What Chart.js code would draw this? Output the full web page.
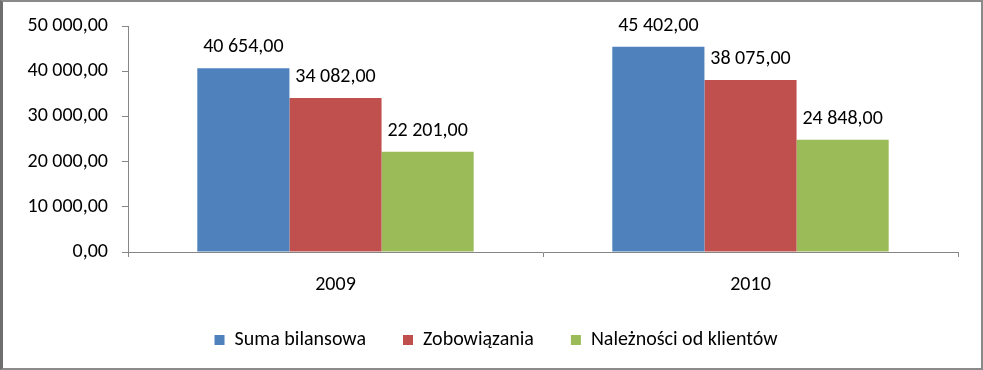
<!DOCTYPE html>
<html>
<head>
<meta charset="utf-8">
<script src="https://cdn.jsdelivr.net/npm/chart.js@4.4.0/dist/chart.umd.min.js"></script>
<style>
  html, body { margin: 0; padding: 0; background: #fff; }
  #wrap { position: relative; width: 983px; height: 370px; }
  #frame { position: absolute; left: 0; top: 0; width: 983px; height: 370px; box-sizing: border-box;
           border: 2px solid #8a8a8a; border-left: 3px solid #6e6e6e; pointer-events: none; }
</style>
</head>
<body>
<div id="wrap">
  <canvas id="balanceChart" width="983" height="370"></canvas>
  <div id="frame"></div>
</div>
<script>
// data
const years = ['2009', '2010'];
const sumaBilansowa = [40654, 45402];
const zobowiazania = [34082, 38075];
const naleznosci = [22201, 24848];
const yTicks = [0, 10000, 20000, 30000, 40000, 50000];

const fontFamily = 'Carlito, Lato, sans-serif';
const fontSize = 20;
const axisGray = '#868686';

// "40 654,00" style
function plNumber(v) {
  const parts = Math.abs(v).toFixed(2).split('.');
  const intPart = parts[0].replace(/\B(?=(\d{3})+(?!\d))/g, ' ');
  return (v < 0 ? '-' : '') + intPart + ',' + parts[1];
}

// values above the bars
const barLabels = {
  id: 'barLabels',
  afterDatasetsDraw(chart) {
    const c = chart.ctx;
    c.save();
    c.font = fontSize + 'px ' + fontFamily;
    c.fillStyle = '#000';
    c.textAlign = 'center';
    c.textBaseline = 'bottom';
    chart.data.datasets.forEach((ds, i) => {
      chart.getDatasetMeta(i).data.forEach((bar, j) => {
        c.fillText(plNumber(ds.data[j]), bar.x, bar.y - 11);
      });
    });
    c.restore();
  }
};

// legend sits a bit right of the plot centre in the original
const legendShift = {
  id: 'legendShift',
  afterLayout(chart) {
    if (chart.legend) {
      chart.legend.left += 17;
      chart.legend.right += 17;
    }
  }
};

const ctx = document.getElementById('balanceChart');
const myChart = new Chart(ctx, {
  type: 'bar',
  data: {
    labels: years,
    datasets: [
      { label: 'Suma bilansowa', data: sumaBilansowa, backgroundColor: '#4F81BD' },
      { label: 'Zobowiązania', data: zobowiazania, backgroundColor: '#C0504D' },
      { label: 'Należności od klientów', data: naleznosci, backgroundColor: '#9BBB59' }
    ]
  },
  options: {
    responsive: false,
    animation: false,
    layout: { padding: { left: 0, right: 25, top: 24, bottom: 10 } },
    datasets: { bar: { barPercentage: 1, categoryPercentage: 0.666 } },
    plugins: {
      legend: {
        position: 'bottom',
        labels: {
          boxWidth: 10,
          boxHeight: 10,
          padding: 37,
          color: '#000',
          font: { family: fontFamily, size: fontSize }
        }
      },
      tooltip: { enabled: false }
    },
    scales: {
      x: {
        afterFit: function(scale) { scale.height -= 20; },
        grid: { offset: true, drawOnChartArea: false, tickLength: 5, color: axisGray },
        border: { color: axisGray },
        ticks: { color: '#000', padding: 16, font: { family: fontFamily, size: fontSize } }
      },
      y: {
        min: 0,
        max: 50000,
        afterFit: function(scale) { scale.width = 128; },
        afterBuildTicks: function(scale) { scale.ticks = yTicks.map(v => ({ value: v })); },
        grid: { drawOnChartArea: false, tickLength: 6, color: axisGray },
        border: { color: axisGray },
        ticks: {
          color: '#000',
          padding: 14,
          font: { family: fontFamily, size: fontSize },
          callback: function(value) { return plNumber(value); }
        }
      }
    }
  },
  plugins: [barLabels, legendShift]
});
</script>
</body>
</html>
